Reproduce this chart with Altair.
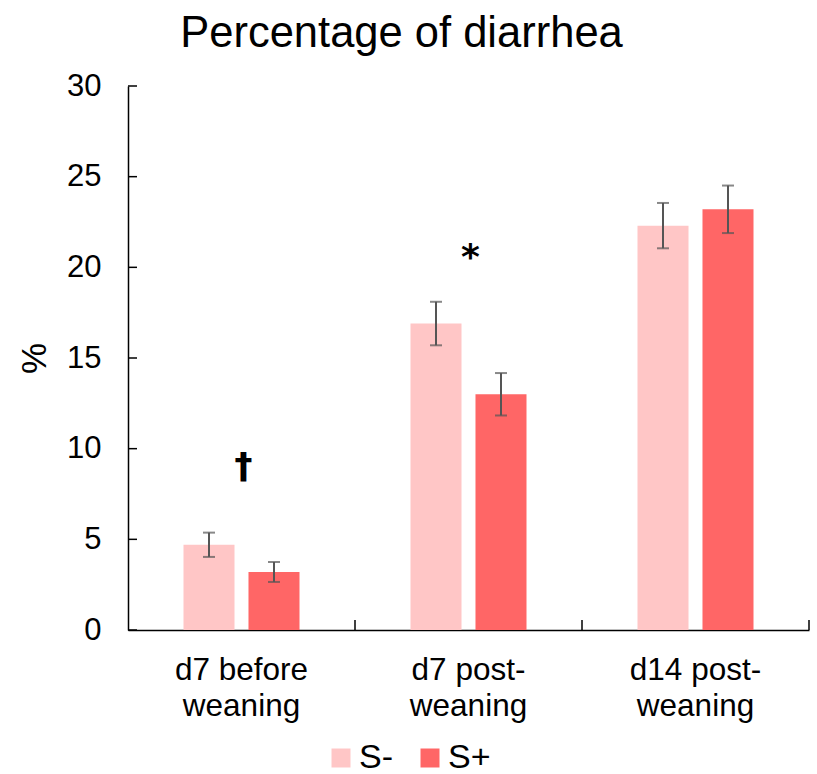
import altair as alt
import pandas as pd

categories = ["d7 before\nweaning", "d7 post-\nweaning", "d14 post-\nweaning"]
series = ["S-", "S+"]
s_minus = [4.7, 16.9, 22.3]
s_minus_err = [0.67, 1.2, 1.25]
s_plus = [3.2, 13.0, 23.2]
s_plus_err = [0.55, 1.17, 1.31]
annotations = ["\u2020", "*", ""]
annotation_y = [8.4, 19.9, None]
y_ticks = [0, 5, 10, 15, 20, 25, 30]
colors = ["#FFC6C6", "#FF6666"]

rows = []
for i, c in enumerate(categories):
    for s, vals, errs in ((series[0], s_minus, s_minus_err), (series[1], s_plus, s_plus_err)):
        rows.append({"cat": c, "series": s, "v": vals[i],
                     "lo": vals[i] - errs[i], "hi": vals[i] + errs[i]})
df = pd.DataFrame(rows)
ann = pd.DataFrame({"cat": categories[:2], "txt": annotations[:2], "y": annotation_y[:2]})
ticks_df = pd.DataFrame({"t": y_ticks})
cat_df = pd.DataFrame({"cat": categories})

FONT = "Liberation Sans"
xscale = alt.Scale(domain=categories, paddingInner=0, paddingOuter=0)
yscale = alt.Scale(domain=[0, 30], nice=False)
offscale = alt.Scale(domain=series, paddingInner=0.215, paddingOuter=0.854)

xaxis = alt.Axis(title=None, labelAngle=0, ticks=False, domainColor="black",
                 domainWidth=1.5, labelFontSize=31.5, labelFont=FONT,
                 labelColor="black", labelPadding=24, labelLineHeight=36,
                 labelExpr="split(datum.value, '\\n')", labelBaseline="top")
yaxis = alt.Axis(title="%", values=y_ticks, ticks=False, tickSize=0, grid=False,
                 domainColor="black", domainWidth=1.5, labelFontSize=31,
                 labelFont=FONT, labelColor="black", labelPadding=27,
                 titleFontSize=35, titleFont=FONT, titleColor="black",
                 titleFontWeight="normal", titlePadding=14)

X = lambda **kw: alt.X("cat:N", scale=xscale, sort=categories, axis=xaxis, **kw)
XO = alt.XOffset("series:N", scale=offscale, sort=series)


def Y(field):
    return alt.Y(field, scale=yscale, axis=yaxis, title="%")


base = alt.Chart(df)

bars = base.mark_bar().encode(
    x=X(),
    xOffset=XO,
    y=Y("v:Q"),
    color=alt.Color("series:N", scale=alt.Scale(domain=series, range=colors),
                    legend=alt.Legend(title=None, orient="none", direction="horizontal",
                                      legendX=196, legendY=655, symbolType="square",
                                      symbolSize=361, symbolStrokeWidth=0,
                                      labelFontSize=34, labelFont=FONT, labelColor="black",
                                      labelOffset=1, columnPadding=20, padding=0,
                                      labelLimit=200)),
)

ERRC = "#555555"
err = base.mark_rule(color=ERRC, strokeWidth=2).encode(
    x=X(), xOffset=XO, y=Y("lo:Q"), y2="hi:Q",
)
cap_lo = base.mark_tick(color=ERRC, size=12, thickness=2).encode(
    x=X(), xOffset=XO, y=Y("lo:Q"),
)
cap_hi = base.mark_tick(color=ERRC, size=12, thickness=2).encode(
    x=X(), xOffset=XO, y=Y("hi:Q"),
)

yticks = alt.Chart(ticks_df).mark_rule(color="black", strokeWidth=1.5).encode(
    y=Y("t:Q"),
    x=alt.value(0), x2=alt.value(9),
)
xticks = alt.Chart(cat_df).mark_rule(color="black", strokeWidth=1.5).encode(
    x=X(bandPosition=1),
    y=alt.value(534), y2=alt.value(544),
)

ann_text = alt.Chart(ann).mark_text(fontSize=36, fontWeight="bold", font="DejaVu Sans",
                                    color="black", baseline="alphabetic", dx=2).encode(
    x=X(),
    y=Y("y:Q"),
    text="txt:N",
)

chart = alt.layer(bars, err, cap_lo, cap_hi, yticks, xticks, ann_text).properties(
    width=681, height=544,
    autosize=alt.AutoSizeParams(type="none"),
    padding={"left": 128, "top": 86, "right": 8, "bottom": 144},
    title=alt.TitleParams("Percentage of diarrhea", fontSize=43.5, font=FONT,
                          fontWeight="normal", color="black", anchor="middle",
                          dx=-67, offset=14),
).configure_view(stroke=None).configure_axis(grid=False)

chart.save("out.html", embed_options={"renderer": "svg", "actions": False})
